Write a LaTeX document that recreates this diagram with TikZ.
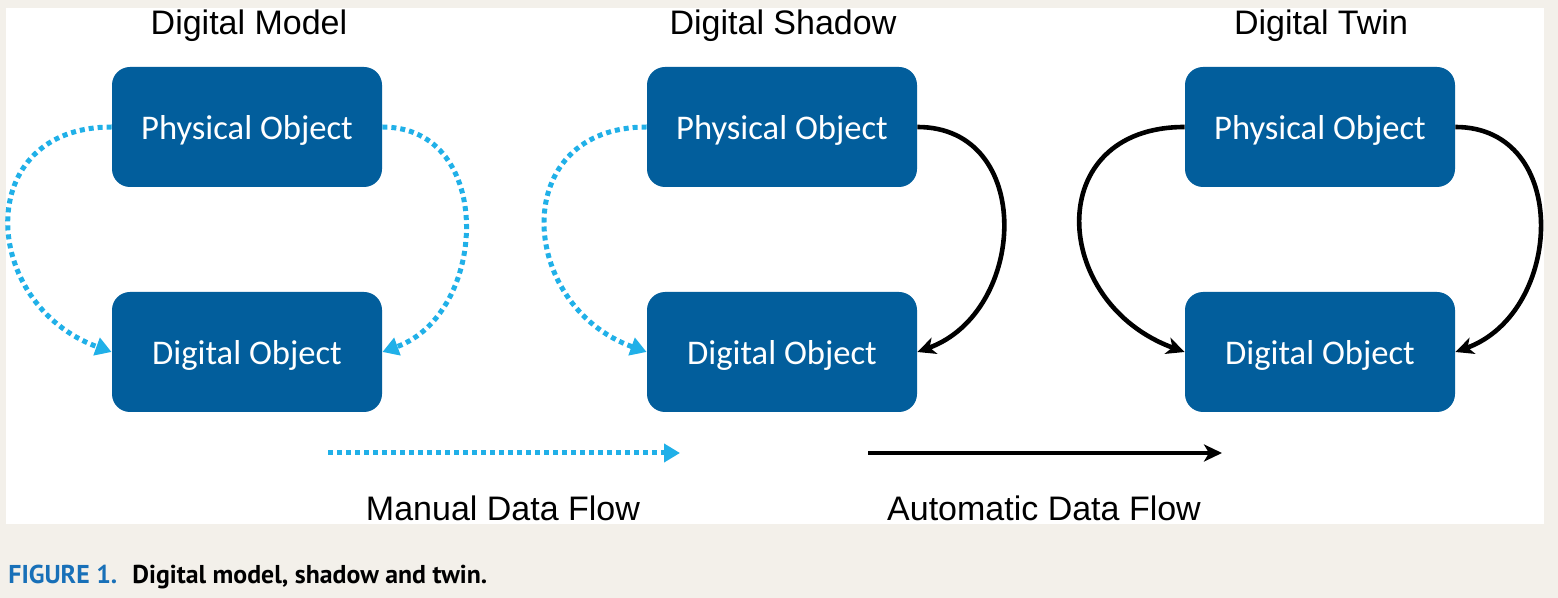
\documentclass[tikz,border=0pt]{standalone}
\usepackage{fontspec}
\setmainfont{Liberation Sans}
\newfontfamily\boxfont{Carlito}
\newfontfamily\capfont{PT Sans}
\usetikzlibrary{arrows.meta}
\definecolor{boxblue}{RGB}{2,94,156}
\definecolor{dotblue}{RGB}{32,176,232}
\definecolor{capblue}{RGB}{24,112,184}
\definecolor{paper}{RGB}{243,240,234}
\begin{document}
\begin{tikzpicture}[x=0.5pt,y=0.5pt,
  obj/.style={fill=boxblue, rounded corners=9pt, minimum width=135pt, minimum height=60pt,
    text=white, font=\boxfont\fontsize{17.3}{20}\selectfont, inner sep=0pt, text depth=0pt},
  ttl/.style={font=\fontsize{17}{20}\selectfont, text=black, inner sep=0pt, anchor=base},
  manual/.style={draw=dotblue, line width=2.5pt, dash pattern=on 2.5pt off 2pt,
    -{Triangle[length=8pt,width=9pt]}},
  auto/.style={draw=black, line width=2.3pt, -{Stealth[length=9pt,width=8.5pt,inset=2.5pt]}}
]
\useasboundingbox (0,0) rectangle (1558,-598);
\fill[paper] (0,0) rectangle (1558,-598);
\fill[white] (6,-8) rectangle (1544,-524);

% titles
\node[ttl] (t1) at (249,-35) {Digital Model};
\node[ttl] (t2) at (783,-35) {Digital Shadow};
\node[ttl] (t3) at (1321,-35) {Digital Twin};

% boxes
\node[obj] (po1) at (247,-127) {Physical Object};
\node[obj] (do1) at (247,-352) {Digital Object};
\node[obj] (po2) at (782,-127) {Physical Object};
\node[obj] (do2) at (782,-352) {Digital Object};
\node[obj] (po3) at (1320,-127) {Physical Object};
\node[obj] (do3) at (1320,-352) {Digital Object};

% connectors
\draw[manual] (po1.west) to[out=180,in=160,looseness=1.6] (do1.west);
\draw[manual] (po1.east) to[out=0,in=20,looseness=1.29] (do1.east);
\draw[manual] (po2.west) to[out=180,in=160,looseness=1.58] (do2.west);
\draw[auto] (po2.east) to[out=0,in=20,looseness=1.34] (do2.east);
\draw[auto] (po3.west) to[out=180,in=160,looseness=1.63] (do3.west);
\draw[auto] (po3.east) to[out=0,in=20,looseness=1.32] (do3.east);

% legend
\coordinate (m1) at (328,-453);
\coordinate (m2) at (680,-453);
\coordinate (a1) at (868,-453);
\coordinate (a2) at (1222,-453);
\draw[manual] (m1) -- (m2);
\draw[auto] (a1) -- (a2);
\node[ttl] (lm) at (503,-520) {Manual Data Flow};
\node[ttl] (la) at (1044,-520) {Automatic Data Flow};

% caption
\node[anchor=base west, inner sep=0pt, font=\capfont\bfseries\fontsize{12.9}{15}\selectfont] (cap) at (8,-583)
  {\textcolor{capblue}{FIGURE 1.}\hspace{0.25em} Digital model, shadow and twin.};
\end{tikzpicture}
\end{document}
